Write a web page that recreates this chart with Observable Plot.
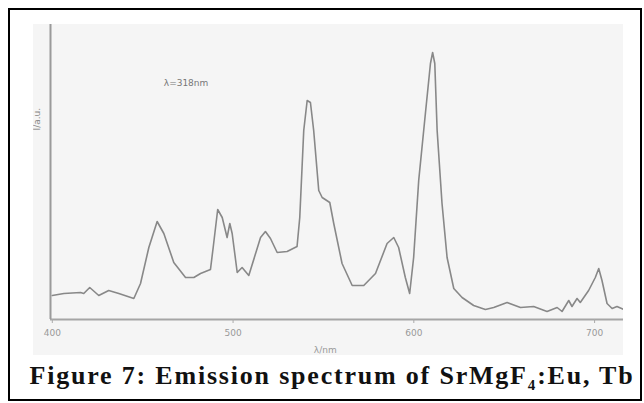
<!DOCTYPE html>
<html>
<head>
<meta charset="utf-8">
<script src="https://cdn.jsdelivr.net/npm/d3@7"></script>
<script src="https://cdn.jsdelivr.net/npm/@observablehq/plot@0.6"></script>
<style>
  html, body { margin: 0; padding: 0; background: #fff; }
  #box { position: absolute; left: 8px; top: 8px; width: 634px; height: 393px; border: 2px solid #000; box-sizing: border-box; }
  #chart { position: absolute; left: 33px; top: 24px; }
  #caption { position: absolute; left: 15px; width: 634px; top: 361px; text-align: center;
    font-family: "Liberation Serif", serif; font-weight: bold; font-size: 26px; letter-spacing: 1.8px; color: #111; white-space: nowrap; }
  #caption sub { font-size: 15px; }
</style>
</head>
<body>
<div id="box"></div>
<div id="chart"></div>
<div id="caption">Figure 7: Emission spectrum of SrMgF<sub>4</sub>:Eu, Tb</div>
<script>
// Wavelength (nm) and emission intensity (a.u.)
const wavelength = [400, 406.4, 415.6, 417.4, 420.7, 425.7, 431.2, 436.8, 445.1, 448.8, 453.4, 458.0, 461.7, 467.2, 473.7, 478.3, 482.0, 487.5, 489.0, 491.5, 494.0, 496.7, 498.2, 499.5, 502.3, 505.0, 508.7, 515.2, 517.9, 520.7, 524.4, 529.9, 535.4, 536.9, 539.1, 541.0, 542.8, 544.6, 547.4, 549.3, 553.5, 555.7, 560.3, 565.9, 572.3, 578.8, 585.2, 588.9, 591.6, 595.3, 597.7, 599.9, 602.7, 606.4, 609.2, 610.4, 611.6, 612.9, 615.6, 618.4, 622.1, 626.7, 633.1, 639.6, 644.2, 651.6, 659.0, 666.3, 673.7, 679.3, 682.0, 685.7, 687.5, 690.3, 692.1, 696.7, 700.4, 702.3, 704.1, 706.9, 709.7, 712.4, 716.1];
const intensity  = [24, 26, 27, 26, 32, 24, 29, 26, 21, 36, 72, 98, 86, 57, 42, 42, 46, 50, 72, 110, 102, 82, 96, 86, 47, 52, 44, 82, 88, 81, 67, 68, 73, 102, 189, 219, 217, 189, 129, 122, 117, 96, 56, 34, 34, 46, 76, 82, 72, 42, 26, 62, 139, 206, 256, 267, 256, 189, 116, 62, 31, 22, 14, 10, 12, 17, 12, 13, 8, 12, 8, 19, 13, 21, 17, 29, 42, 51, 39, 16, 11, 13, 10];
const xTicks = [400, 500, 600, 700];
const xLabel = "λ/nm";
const yLabel = "I/a.u.";
const note = "λ=318nm";

const data = wavelength.map((w, i) => ({w, v: intensity[i]}));

const chart = Plot.plot({
  width: 590,
  height: 331,
  marginLeft: 17,
  marginRight: 0,
  marginTop: 0,
  marginBottom: 36,
  style: { background: "#f5f5f5", fontFamily: "DejaVu Sans, sans-serif" },
  x: { domain: [399, 716] },
  y: { domain: [0, 295], axis: null },
  marks: [
    Plot.ruleY([0], { stroke: "#a5a5a5", strokeWidth: 2 }),
    Plot.ruleX([399], { stroke: "#9a9a9a", strokeWidth: 2 }),
    Plot.axisX({ ticks: xTicks, tickSize: 4, tickPadding: 6, fontSize: 9, stroke: "#aaa", color: "#999", label: null }),
    Plot.line(data, { x: "w", y: "v", stroke: "#888", strokeWidth: 1.6 }),
    Plot.text([xLabel], { x: 551, frameAnchor: "bottom", dy: 33, fontSize: 9, fill: "#999" }),
    Plot.text([yLabel], { frameAnchor: "left", y: 189, dx: -13, rotate: -90, fontSize: 9, fill: "#888" }),
    Plot.text([note], { x: 474, y: 236, fontSize: 9, fill: "#777" })
  ]
});
document.getElementById("chart").appendChild(chart);
</script>
</body>
</html>
